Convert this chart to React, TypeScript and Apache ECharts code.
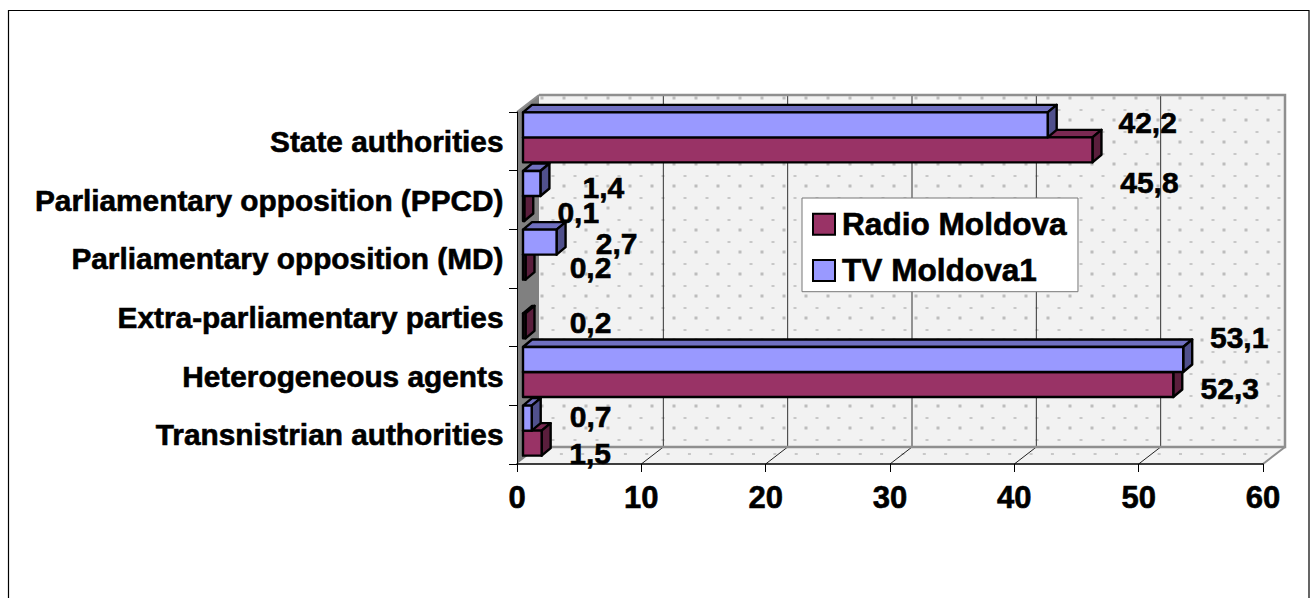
import React, { useEffect, useRef } from "react";
import * as echarts from "echarts";

const categories = [
  "Transnistrian authorities",
  "Heterogeneous agents",
  "Extra-parliamentary parties",
  "Parliamentary opposition (MD)",
  "Parliamentary opposition (PPCD)",
  "State authorities",
];
const radioValues = [1.5, 52.3, 0.2, 0.2, 0.1, 45.8];
const tvValues = [0.7, 53.1, 0, 2.7, 1.4, 42.2];
const gridTicks = [10, 20, 30, 40, 50];

// Manual placement of data labels relative to each bar's end (layout only)
const radioLabelDx = [48.5, 56.5, 65, 65, 54, 57];
const radioLabelDy = [10, 4, -3, 0, 4, 32.5];
const tvLabelDx = [59, 56, 0, 60, 63, 100];
const tvLabelDy = [-2, -22, 0, 1, 4, -2.5];

const FONT = '"Liberation Sans", Arial, sans-serif';
const WALL_DX = 22;
const WALL_DY = -17;
const BAR_OFF_X = 6;
const BAR_OFF_Y = -4;
const BAR_H = 25;
const BAR_DX = 9;
const BAR_DY = -7.5;
const HEAVY = { textBorderColor: "#000000", textBorderWidth: 0.6 };

function renderWalls(params: any, api: any) {
  const c = params.coordSys;
  const l = c.x, r = c.x + c.width, t = c.y, b = c.y + c.height;
  const children: any[] = [];
  const wl = l + WALL_DX, wr = r + WALL_DX, wt = t + WALL_DY, wb = b + WALL_DY;
  children.push({
    type: "polygon",
    shape: { points: [[wl, wt], [wr, wt], [wr, wb], [wl, wb]] },
    style: { fill: "#f2f2f2" },
  });
  children.push({
    type: "polygon",
    shape: { points: [[l, b], [wl, wb], [wr, wb], [r, b]] },
    style: { fill: "#f2f2f2" },
  });
  children.push({
    type: "polygon",
    shape: { points: [[l, t], [wl, wt], [wl, wb], [l, b]] },
    style: { fill: "#808080" },
  });
  for (let y = 98; y < wb - 2; y += 22) {
    for (let x = 542; x < wr - 2; x += 22) {
      children.push({ type: "rect", shape: { x: x - 1.5, y: y - 1.5, width: 3, height: 3 }, style: { fill: "#bdbdbd" } });
    }
  }
  for (let y = 110; y < wb - 2; y += 22) {
    for (let x = 553; x < wr; x += 22) {
      children.push({ type: "rect", shape: { x: x - 1.5, y: y - 1, width: 3, height: 2 }, style: { fill: "#c8c8c8" } });
    }
  }
  for (let x = 540; x < 1270; x += 21.35) {
    children.push({ type: "rect", shape: { x: x - 1.5, y: 453, width: 3, height: 2 }, style: { fill: "#c8c8c8" } });
  }
  gridTicks.forEach((v) => {
    const x = api.coord([v, 0])[0];
    children.push({
      type: "line",
      shape: { x1: x + WALL_DX, y1: wt, x2: x + WALL_DX, y2: wb },
      style: { stroke: "#333333", lineWidth: 1 },
    });
    children.push({
      type: "line",
      shape: { x1: x, y1: b, x2: x + WALL_DX, y2: wb },
      style: { stroke: "#222222", lineWidth: 1 },
    });
  });
  const edge = { stroke: "#8f8f8f", lineWidth: 2.5 };
  children.push({ type: "polyline", shape: { points: [[wl, wb], [wr, wb], [wr, wt], [wl, wt]] }, style: { ...edge, fill: "none" } });
  children.push({ type: "line", shape: { x1: wr, y1: wb, x2: r, y2: b }, style: { stroke: "#8f8f8f", lineWidth: 2 } });
  children.push({ type: "line", shape: { x1: wl, y1: wt, x2: l, y2: t }, style: { stroke: "#8f8f8f", lineWidth: 2 } });
  return { type: "group", children };
}

function makeBarRenderer(
  front: string,
  top: string,
  side: string,
  isUpper: boolean,
  dxs: number[],
  dys: number[]
) {
  return (params: any, api: any) => {
    const value = api.value(0);
    if (!value) return { type: "group", children: [] };
    const idx = api.value(1);
    const end = api.coord([value, idx]);
    const base = api.coord([0, idx]);
    const x0 = base[0] + BAR_OFF_X;
    const x1 = end[0] + BAR_OFF_X;
    const yc = end[1] + BAR_OFF_Y;
    const yT = isUpper ? yc - BAR_H : yc;
    const yB = isUpper ? yc : yc + BAR_H;
    const stroke = { stroke: "#000000", lineWidth: 2.4, lineJoin: "round" };
    return {
      type: "group",
      children: [
        {
          type: "polygon",
          shape: { points: [[x0, yT], [x0 + BAR_DX, yT + BAR_DY], [x1 + BAR_DX, yT + BAR_DY], [x1, yT]] },
          style: { fill: top, ...stroke },
        },
        {
          type: "polygon",
          shape: { points: [[x1, yT], [x1 + BAR_DX, yT + BAR_DY], [x1 + BAR_DX, yB + BAR_DY], [x1, yB]] },
          style: { fill: side, ...stroke },
        },
        {
          type: "rect",
          shape: { x: x0, y: yT, width: x1 - x0, height: BAR_H },
          style: { fill: front, ...stroke },
        },
        {
          type: "text",
          z2: 50,
          style: {
            x: x1 + dxs[params.dataIndex],
            y: (yT + yB) / 2 + dys[params.dataIndex],
            text: value.toFixed(1).replace(".", ","),
            fill: "#000000",
            align: "center",
            verticalAlign: "middle",
            font: `bold 30px ${FONT}`,
            stroke: "#000000",
            lineWidth: 0.6,
          },
        },
      ],
    };
  };
}

export default function App() {
  const ref = useRef<HTMLDivElement>(null);
  useEffect(() => {
    if (!ref.current) return;
    const chart = echarts.init(ref.current, undefined, { renderer: "svg" });
    const toData = (arr: number[]) => arr.map((v, i) => [v, i]);
    chart.setOption({
      animation: false,
      backgroundColor: "#ffffff",
      grid: { left: 517, top: 112, width: 746, height: 352, containLabel: false },
      xAxis: {
        type: "value",
        min: 0,
        max: 60,
        interval: 10,
        z: 5,
        splitLine: { show: false },
        axisLine: { show: true, lineStyle: { color: "#000000", width: 1.5 } },
        axisTick: { show: true, length: 8, lineStyle: { color: "#000000", width: 1 } },
        axisLabel: { color: "#000000", fontFamily: FONT, fontWeight: "bold", fontSize: 31, margin: 18, ...HEAVY },
      },
      yAxis: {
        type: "category",
        data: categories,
        z: 5,
        axisLine: { show: true, lineStyle: { color: "#000000", width: 1 } },
        axisTick: { show: true, length: 8, lineStyle: { color: "#000000", width: 1 } },
        axisLabel: { color: "#000000", fontFamily: FONT, fontWeight: "bold", fontSize: 29.8, margin: 13.5, interval: 0, ...HEAVY },
      },
      legend: {
        show: true,
        orient: "vertical",
        left: 802,
        top: 198,
        z: 20,
        data: ["Radio Moldova", "TV Moldova1"],
        backgroundColor: "#ffffff",
        borderColor: "#777777",
        borderWidth: 1,
        padding: [10, 11, 5, 10],
        itemWidth: 22,
        itemHeight: 21,
        itemGap: 13.5,
        textStyle: { color: "#000000", fontFamily: FONT, fontWeight: "bold", fontSize: 31.6, padding: [0, 0, 0, 2], ...HEAVY },
        icon: "rect",
        itemStyle: { borderColor: "#000000", borderWidth: 2 },
      },
      graphic: [
        {
          type: "rect",
          shape: { x: 8.5, y: 10.5, width: 1300.5, height: 620 },
          style: { fill: "none", stroke: "#000000", lineWidth: 1.2 },
          silent: true,
        },
      ],
      series: [
        {
          name: "walls",
          type: "custom",
          coordinateSystem: "cartesian2d",
          z: 1,
          silent: true,
          clip: false,
          renderItem: renderWalls,
          encode: { x: 0, y: 1 },
          data: [[0, 0]],
        },
        {
          name: "Radio Moldova",
          type: "custom",
          coordinateSystem: "cartesian2d",
          z: 3,
          clip: false,
          itemStyle: { color: "#993366" },
          renderItem: makeBarRenderer("#993366", "#7a2952", "#5a1e3c", false, radioLabelDx, radioLabelDy),
          encode: { x: 0, y: 1 },
          data: toData(radioValues),
        },
        {
          name: "TV Moldova1",
          type: "custom",
          coordinateSystem: "cartesian2d",
          z: 4,
          clip: false,
          itemStyle: { color: "#9999ff" },
          renderItem: makeBarRenderer("#9999ff", "#7070c0", "#50508c", true, tvLabelDx, tvLabelDy),
          encode: { x: 0, y: 1 },
          data: toData(tvValues),
        },
      ],
    });
    return () => chart.dispose();
  }, []);
  return <div ref={ref} style={{ position: "absolute", left: 0, top: 0, width: 1312, height: 598 }} />;
}
